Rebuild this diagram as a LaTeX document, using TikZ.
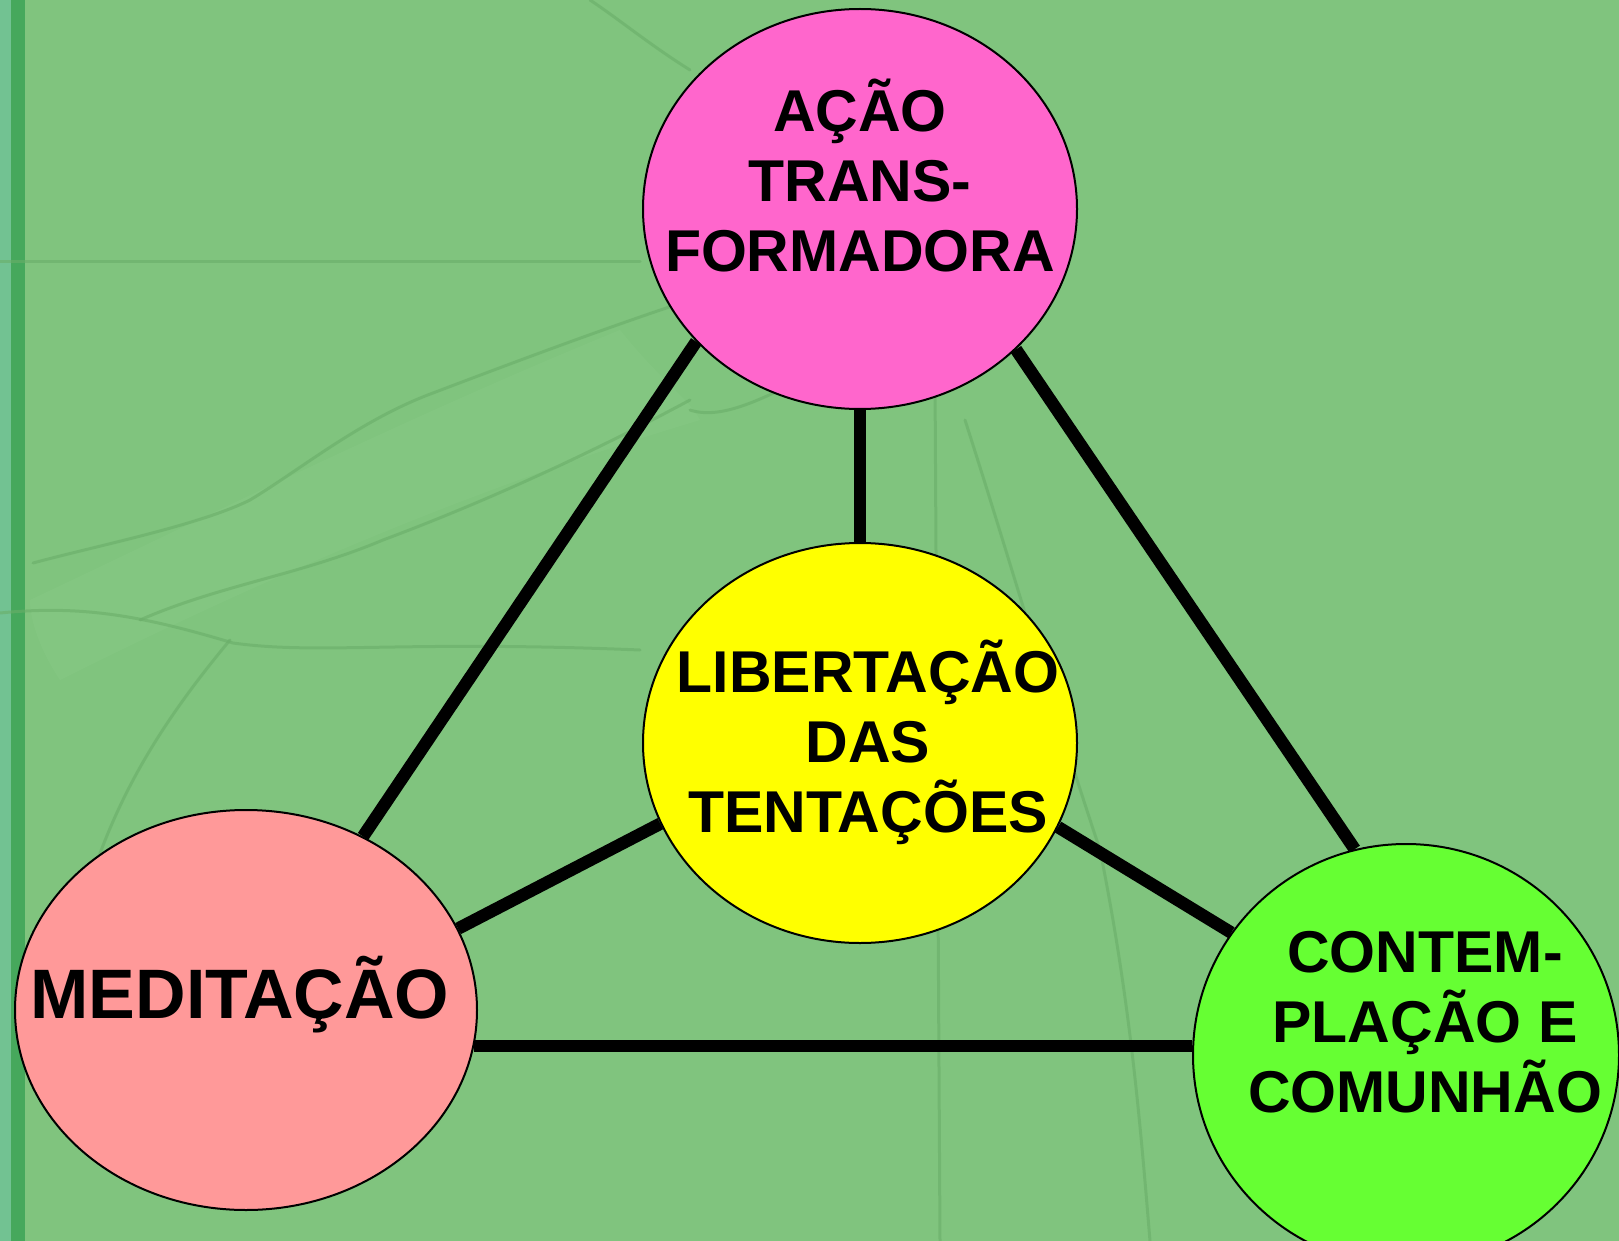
\documentclass[tikz,border=0pt]{standalone}
\usepackage{fontspec}
\setmainfont{Liberation Sans}
\usetikzlibrary{shapes.geometric}
\definecolor{bg}{HTML}{80C47E}
\definecolor{bgline}{HTML}{6AAE69}
\definecolor{bglight}{HTML}{8DCC8B}
\definecolor{stripteal}{HTML}{72C292}
\definecolor{stripdark}{HTML}{46A85C}
\definecolor{pinkA}{HTML}{FF66CC}
\definecolor{pinkB}{HTML}{FF9999}
\definecolor{yellowA}{HTML}{FFFF00}
\definecolor{greenA}{HTML}{66FF33}
\pgfdeclarelayer{bottom}
\pgfdeclarelayer{links}
\pgfsetlayers{bottom,links,main}
\begin{document}
\begin{tikzpicture}[x=1pt,y=-1pt,
  blob/.style={ellipse, draw=black, line width=2pt, inner sep=0pt},
  lbl/.style={font=\fontsize{59}{70}\selectfont\bfseries, align=center, text=black, inner sep=0pt},
  bigl/.style={font=\fontsize{70}{80}\selectfont\bfseries, text=black, inner sep=0pt},
  link/.style={line width=12.5pt, draw=black},
  faint/.style={draw=bgline, line width=3pt, opacity=0.6, line cap=round, line join=round}]
\useasboundingbox (0,0) rectangle (1619,1241);
\begin{pgfonlayer}{bottom}
  \fill[bg] (0,0) rectangle (1619,1241);
  \fill[stripteal] (0,0) rectangle (11,1241);
  \fill[stripdark] (11,0) rectangle (25,1241);
  % faint map texture
  \fill[bglight, opacity=0.3] (30,600) .. controls (200,520) and (400,420) .. (620,330)
     .. controls (660,380) and (690,400) .. (700,420) .. controls (500,480) and (300,560) .. (60,680)
     .. controls (40,650) and (30,620) .. (30,600) -- cycle;
  \draw[faint] (0,262) -- (640,262);
  \draw[faint] (33,563) .. controls (100,545) and (200,525) .. (250,500)
     .. controls (300,470) and (360,420) .. (433,393) .. controls (520,360) and (600,330) .. (690,300);
  \draw[faint] (0,613) .. controls (80,605) and (140,615) .. (233,643)
     .. controls (320,655) and (400,640) .. (640,650);
  \draw[faint] (140,620) .. controls (220,585) and (300,575) .. (383,540)
     .. controls (450,515) and (560,470) .. (690,400);
  \draw[faint] (60,1000) .. controls (90,850) and (130,760) .. (230,640);
  \draw[faint] (590,0) .. controls (620,20) and (650,45) .. (690,70);
  \draw[faint] (690,410) .. controls (720,420) and (760,400) .. (800,380);
  \draw[faint] (965,420) .. controls (1010,560) and (1050,700) .. (1100,850)
     .. controls (1130,1000) and (1140,1120) .. (1150,1241);
  \draw[faint] (935,380) -- (940,1241);
\end{pgfonlayer}

\node[blob, fill=pinkA, minimum width=434pt, minimum height=400pt] (acao) at (860,209) {};
\node[blob, fill=yellowA, minimum width=434pt, minimum height=400pt] (lib) at (860,743) {};
\node[blob, fill=pinkB, minimum width=462pt, minimum height=400pt] (med) at (246,1010) {};
\node[blob, fill=greenA, minimum width=426pt, minimum height=422pt] (cont) at (1406,1055) {};

\node[lbl] (acaoT) at (860,176) {AÇÃO\\TRANS-\\FORMADORA};
\node[lbl] (libT) at (868,742) {LIBERTAÇÃO\\DAS\\TENTAÇÕES};
\node[lbl] (contT) at (1425,1022) {CONTEM-\\PLAÇÃO E\\COMUNHÃO};
\node[bigl, anchor=base] (medT) at (240,1018) {MEDITAÇÃO};

\begin{pgfonlayer}{links}
  \draw[link] (acao.south) -- (lib.north);
  \draw[link] (acao.219) -- (med.56);
  \draw[link] (acao.318) -- (cont.104);
  \draw[link] (lib.202) -- (med.21);
  \draw[link] (lib.337) -- (cont.145);
  \draw[link] (med.351) -- (med.351 -| cont.west);
\end{pgfonlayer}
\end{tikzpicture}
\end{document}
